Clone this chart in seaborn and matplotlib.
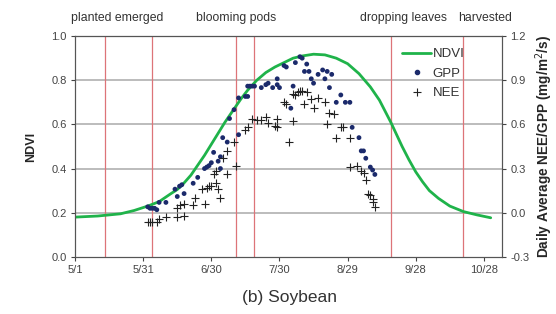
import pandas as pd
import matplotlib
matplotlib.use("Agg")
import matplotlib.pyplot as plt
import seaborn as sns
from matplotlib.lines import Line2D

# NDVI curve (days after May 1)
ndvi_day = [0, 10, 20, 26, 32, 37, 42, 45, 48, 51, 54, 57, 60, 63, 66, 70, 73, 76, 80, 84, 88,
            92, 96, 100, 105, 110, 115, 120, 125, 130, 134, 139, 144, 147, 150, 153, 156, 160,
            165, 171, 177, 183]
ndvi_val = [0.18, 0.185, 0.195, 0.21, 0.23, 0.25, 0.285, 0.305, 0.335, 0.37, 0.415, 0.46, 0.51,
            0.56, 0.61, 0.67, 0.715, 0.755, 0.80, 0.835, 0.86, 0.88, 0.90, 0.91, 0.918, 0.915,
            0.90, 0.875, 0.83, 0.77, 0.71, 0.61, 0.50, 0.44, 0.385, 0.34, 0.30, 0.265, 0.23,
            0.205, 0.19, 0.177]

# daily GPP (mg/m2/s)
gpp_day = [32, 33, 34, 35, 36, 37, 40, 44, 45, 46, 47, 48, 52, 54, 57, 58, 59, 60, 61, 63, 64, 64,
           65, 67, 68, 70, 72, 72, 75, 76, 76, 77, 78, 79, 82, 84, 85, 87, 89, 89, 90, 92, 93, 95,
           96, 97, 99, 100, 101, 102, 103, 104, 105, 107, 109, 110, 111, 112, 113, 115, 117, 119,
           121, 122, 125, 126, 127, 128, 130, 131, 132]
gpp_val = [0.04, 0.03, 0.03, 0.03, 0.02, 0.07, 0.07, 0.16, 0.11, 0.18, 0.19, 0.13, 0.20, 0.24,
           0.30, 0.31, 0.32, 0.34, 0.41, 0.35, 0.38, 0.30, 0.51, 0.48, 0.64, 0.70, 0.53, 0.78,
           0.79, 0.79, 0.86, 0.86, 0.86, 0.86, 0.85, 0.87, 0.88, 0.85, 0.91, 0.87, 0.85, 1.00,
           0.99, 0.71, 0.86, 1.02, 1.06, 1.05, 0.96, 1.01, 0.96, 0.91, 0.88, 0.94, 0.97, 0.91,
           0.96, 0.85, 0.94, 0.75, 0.80, 0.75, 0.75, 0.58, 0.51, 0.42, 0.42, 0.37, 0.31, 0.29, 0.26]

# daily NEE (mg/m2/s)
nee_day = [32, 33, 34, 36, 37, 40, 45, 48, 45, 46, 48, 52, 57, 53, 56, 58, 59, 60, 62, 63, 64, 61,
           62, 67, 65, 67, 70, 71, 75, 76, 78, 80, 82, 84, 85, 88, 89, 89, 92, 93, 94, 96, 97, 98,
           99, 100, 102, 96, 101, 104, 105, 107, 110, 112, 114, 111, 117, 118, 115, 121, 121, 124,
           126, 127, 128, 129, 130, 131, 131, 132]
nee_val = [-0.06, -0.06, -0.06, -0.06, -0.04, -0.03, -0.03, -0.02, 0.03, 0.05, 0.06, 0.05, 0.06,
           0.10, 0.16, 0.17, 0.18, 0.18, 0.20, 0.16, 0.10, 0.26, 0.28, 0.26, 0.37, 0.42, 0.48,
           0.32, 0.56, 0.58, 0.64, 0.63, 0.63, 0.65, 0.61, 0.59, 0.64, 0.58, 0.75, 0.74, 0.48,
           0.81, 0.80, 0.82, 0.83, 0.83, 0.82, 0.62, 0.74, 0.77, 0.71, 0.78, 0.75, 0.68, 0.67,
           0.60, 0.58, 0.58, 0.51, 0.51, 0.31, 0.32, 0.28, 0.27, 0.22, 0.13, 0.12, 0.09, 0.07, 0.04]

# crop stages
stage_days = [13, 34, 71, 79, 139, 171]
stage_labels = ["planted emerged", "blooming pods", "dropping leaves", "harvested"]
stage_label_x = [18.5, 71, 144.5, 180.5]

xtick_pos = [0, 30, 60, 90, 120, 150, 180]
xtick_labels = ["5/1", "5/31", "6/30", "7/30", "8/29", "9/28", "10/28"]

ndvi_df = pd.DataFrame({"day": ndvi_day, "NDVI": ndvi_val})
gpp_df = pd.DataFrame({"day": gpp_day, "flux": gpp_val})
nee_df = pd.DataFrame({"day": nee_day, "flux": nee_val})

sns.set_style("white")
plt.rcParams["font.family"] = ["Liberation Sans", "DejaVu Sans"]

fig = plt.figure(figsize=(5.56, 3.14), dpi=100)
ax = fig.add_axes([0.135, 0.182, 0.768, 0.703])
ax2 = ax.twinx()

tick_col = "#444444"
green = "#1fb34a"
navy = "#1b2a6b"

# grid
for g in [0.2, 0.4, 0.6, 0.8]:
    ax.axhline(g, color="#b0b0b0", lw=1.2, zorder=0)
for d in stage_days:
    ax.axvline(d, color="#dd7478", lw=0.9, zorder=1)

sns.lineplot(data=ndvi_df, x="day", y="NDVI", ax=ax, color=green, lw=2.0, zorder=3)
sns.scatterplot(data=gpp_df, x="day", y="flux", ax=ax2, color=navy, s=12,
                edgecolor="none", zorder=4)
sns.scatterplot(data=nee_df, x="day", y="flux", ax=ax2, color="#222222", marker="+",
                s=32, linewidth=0.8, zorder=4)

ax.set_xlim(0, 188)
ax.set_ylim(0, 1.0)
ax2.set_ylim(-0.3, 1.2)
ax.set_xticks(xtick_pos)
ax.set_xticklabels(xtick_labels)
ax.set_yticks([0.0, 0.2, 0.4, 0.6, 0.8, 1.0])
ax.set_yticklabels(["0.0", "0.2", "0.4", "0.6", "0.8", "1.0"])
ax2.set_yticks([-0.3, 0.0, 0.3, 0.6, 0.9, 1.2])
ax2.set_yticklabels(["-0.3", "0.0", "0.3", "0.6", "0.9", "1.2"])

for a in (ax, ax2):
    a.tick_params(axis="both", colors=tick_col, labelsize=8, length=3, width=0.8,
                  direction="out", pad=3)
    for s in a.spines.values():
        s.set_color("#555555")
        s.set_linewidth(0.8)
ax.spines["top"].set_color("#222222")
ax.tick_params(axis="x", bottom=True)
ax.tick_params(axis="y", left=True)
ax2.tick_params(axis="y", right=True)

ax.set_xlabel("")
ax.set_ylabel("NDVI", fontsize=9, fontweight="bold", labelpad=10)
ax2.set_ylabel("Daily Average NEE/GPP (mg/m$^2$/s)", fontsize=9.8, fontweight="bold",
               labelpad=3)

for lab, xpos in zip(stage_labels, stage_label_x):
    ax.text(xpos, 1.055, lab, transform=ax.get_xaxis_transform(), ha="center",
            va="bottom", fontsize=8.8, color="#333333")

handles = [
    Line2D([], [], color=green, lw=2.0),
    Line2D([], [], color=navy, marker="o", ls="none", markersize=3),
    Line2D([], [], color="#222222", marker="+", ls="none", markersize=6, markeredgewidth=0.8),
]
ax2.legend(handles, ["NDVI", "GPP", "NEE"], loc="upper right", bbox_to_anchor=(0.94, 1.0),
           frameon=False, fontsize=9.5, handlelength=2.2, handletextpad=0.1,
           labelspacing=0.55, labelcolor="#333333")

fig.text(0.52, 0.03, "(b) Soybean", ha="center", va="bottom", fontsize=12.5, color="#333333")

fig.savefig("out.png", dpi=100, facecolor="white")
